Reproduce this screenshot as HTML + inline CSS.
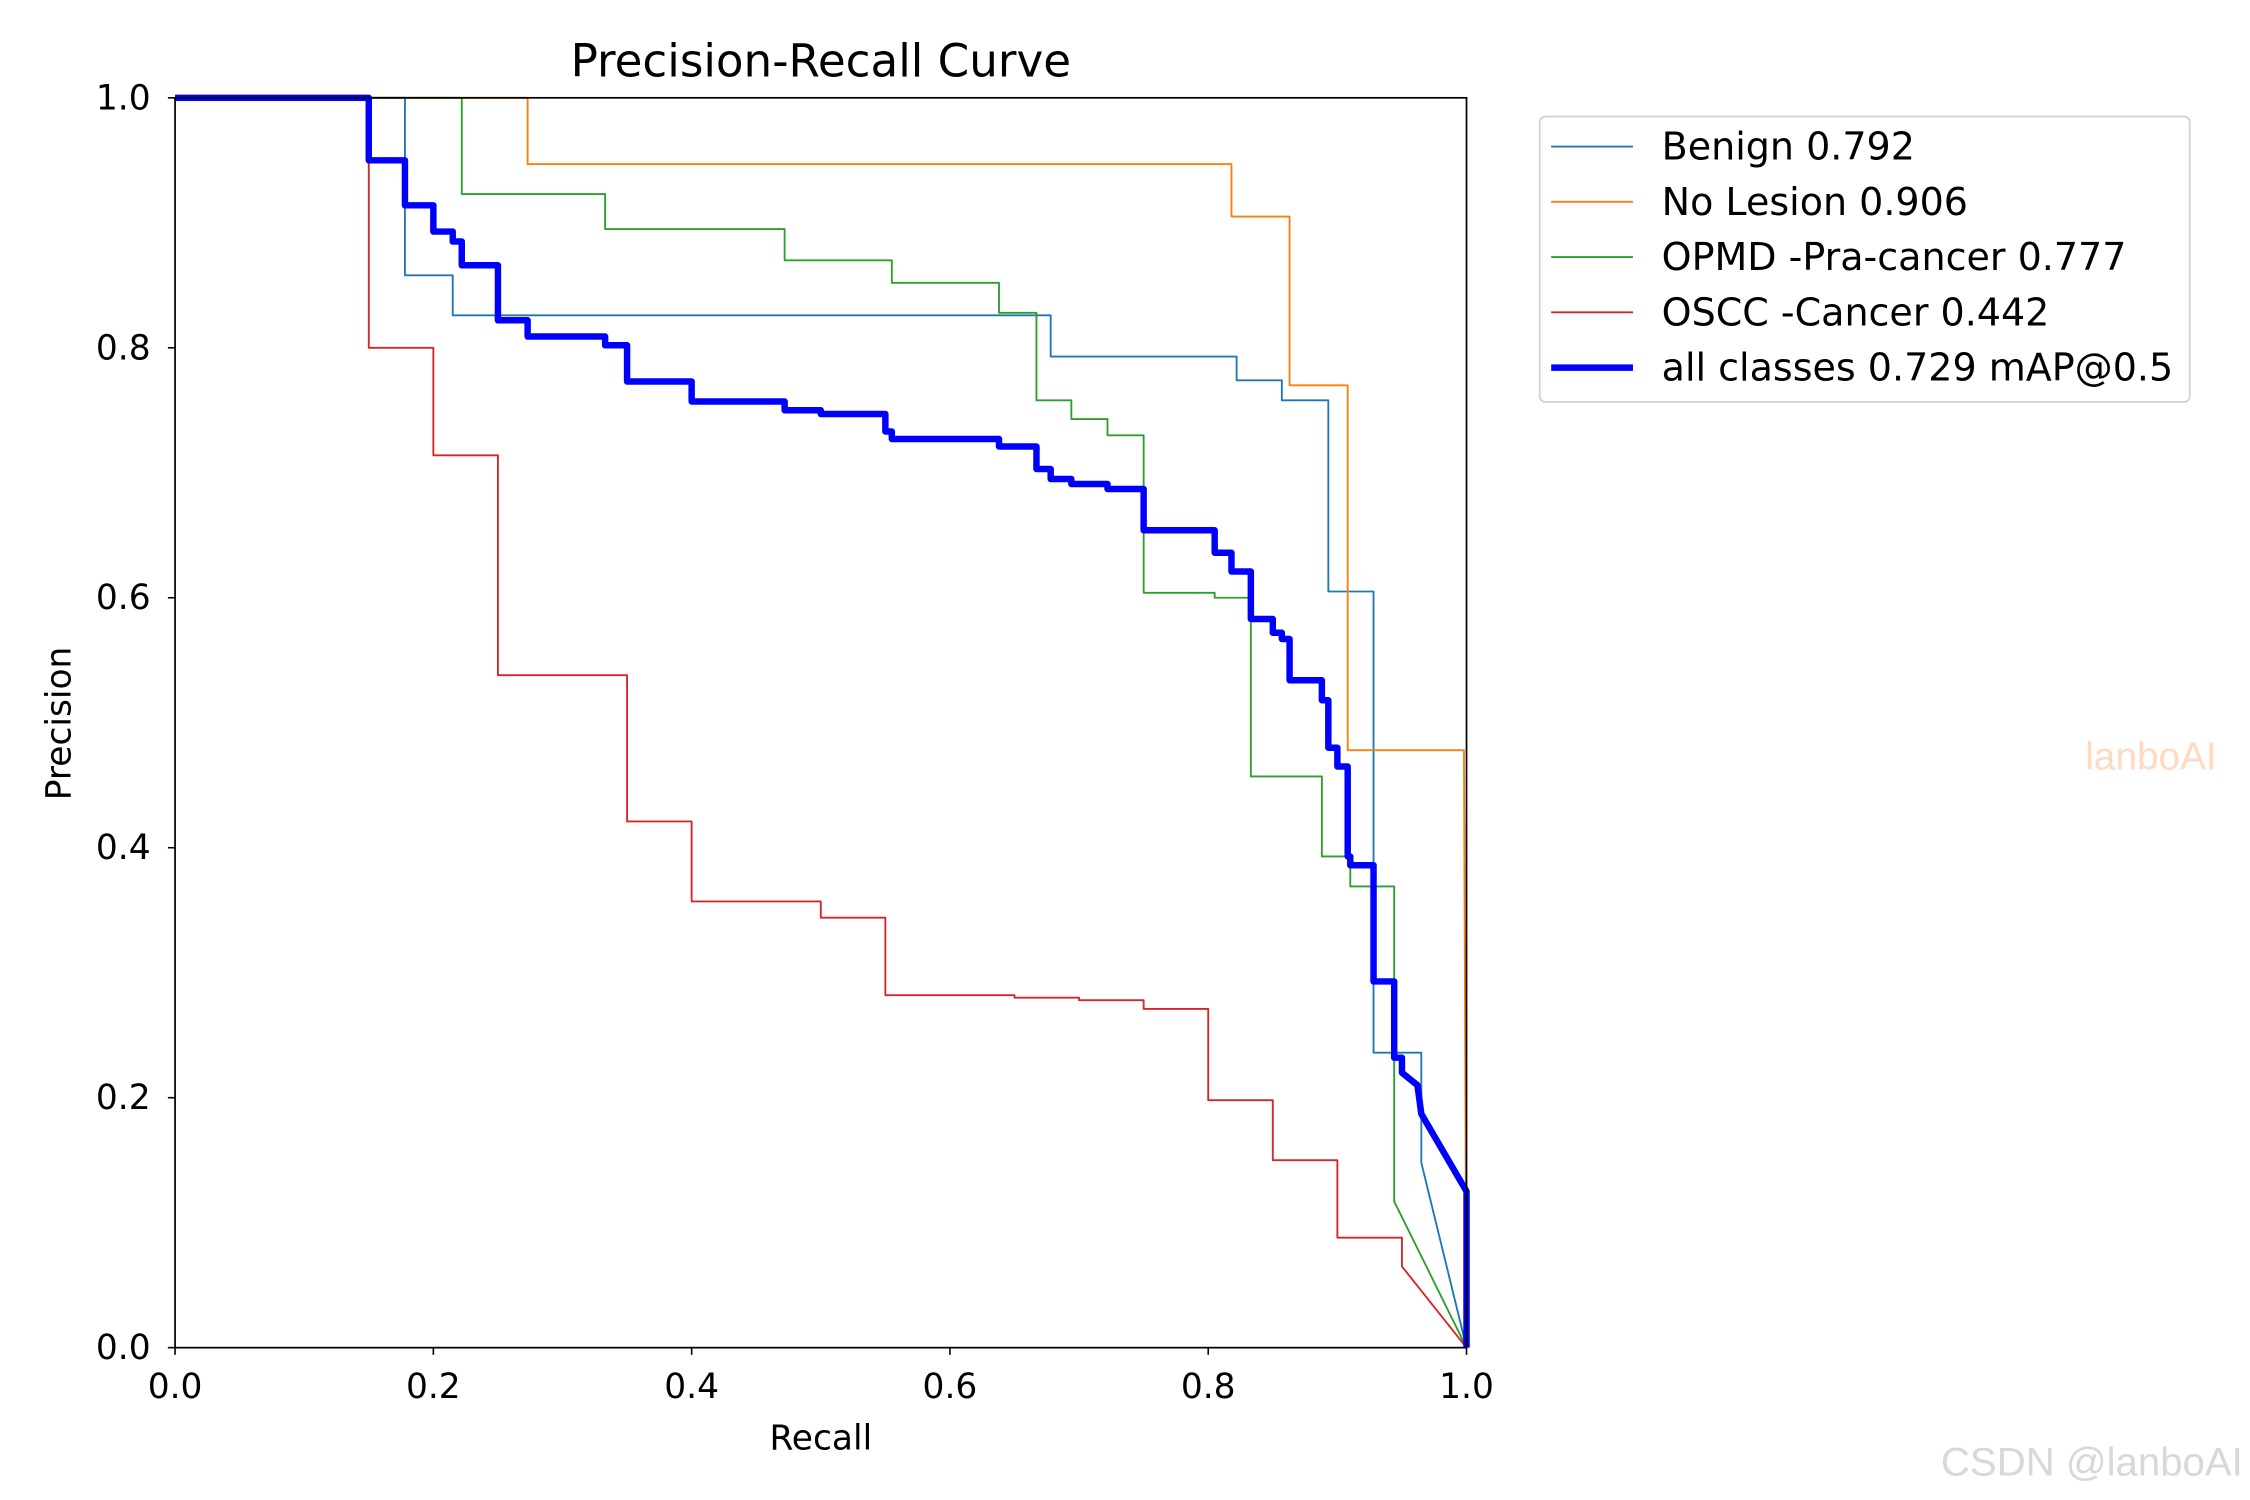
<!DOCTYPE html>
<html><head><meta charset="utf-8"><style>
html,body{margin:0;padding:0;background:#fff;}
svg{display:block;font-family:"DejaVu Sans","Liberation Sans",sans-serif;}
</style></head><body>
<svg id="chart" width="2250" height="1500" viewBox="0 0 1568 1045" xmlns="http://www.w3.org/2000/svg">
<rect width="1568" height="1045" fill="#fff"/>
<text x="572" y="53" font-size="31.5" text-anchor="middle">Precision-Recall Curve</text>
<g id="marks"></g>
<rect x="122" y="68" width="900" height="871" fill="none" stroke="#000" stroke-width="1.2"/>
<g id="ticks"></g>
<text x="572" y="1010" font-size="24" text-anchor="middle">Recall</text>
<text transform="translate(49,504) rotate(-90)" font-size="24" text-anchor="middle">Precision</text>
<g>
<rect x="1073" y="81" width="453" height="199" rx="4" fill="#fff" stroke="#d0d0d0" stroke-width="1.2"/>
<g id="legend-items"></g>
</g>
<text x="1499" y="536" font-size="27" fill="#ffd9c0" text-anchor="middle" font-family="Liberation Sans, sans-serif">lanboAI</text>
<text x="1563" y="1028" font-size="28" fill="#d8d8d8" text-anchor="end" font-family="Liberation Sans, sans-serif">CSDN @lanboAI</text>
</svg>
<script>
const seriesNames = ["Benign 0.792","No Lesion 0.906","OPMD -Pra-cancer 0.777","OSCC -Cancer 0.442","all classes 0.729 mAP@0.5"];
const seriesColors = ["#1f77b4","#ff7f0e","#2ca02c","#d62728","#0000ff"];
const seriesWidths = [1.3,1.3,1.3,1.3,4.5];
const benignR = [0,0.178,0.178,0.215,0.215,0.678,0.678,0.822,0.822,0.857,0.857,0.893,0.893,0.928,0.928,0.965,0.965,1.0];
const benignP = [1,1,0.858,0.858,0.826,0.826,0.793,0.793,0.774,0.774,0.758,0.758,0.605,0.605,0.236,0.236,0.148,0.0];
const nolesionR = [0,0.273,0.273,0.818,0.818,0.863,0.863,0.908,0.908,0.998,1.0];
const nolesionP = [1,1,0.947,0.947,0.905,0.905,0.770,0.770,0.478,0.478,0.0];
const opmdR = [0,0.222,0.222,0.333,0.333,0.472,0.472,0.555,0.555,0.638,0.638,0.667,0.667,0.694,0.694,0.722,0.722,0.75,0.75,0.805,0.805,0.833,0.833,0.888,0.888,0.91,0.91,0.944,0.944,1.0];
const opmdP = [1,1,0.923,0.923,0.895,0.895,0.870,0.870,0.852,0.852,0.828,0.828,0.758,0.758,0.743,0.743,0.730,0.730,0.604,0.604,0.600,0.600,0.457,0.457,0.393,0.393,0.369,0.369,0.117,0.0];
const osccR = [0,0.15,0.15,0.2,0.2,0.25,0.25,0.35,0.35,0.4,0.4,0.5,0.5,0.55,0.55,0.65,0.65,0.7,0.7,0.75,0.75,0.8,0.8,0.85,0.85,0.9,0.9,0.95,0.95,1.0];
const osccP = [1,1,0.8,0.8,0.714,0.714,0.538,0.538,0.421,0.421,0.357,0.357,0.344,0.344,0.282,0.282,0.280,0.280,0.278,0.278,0.271,0.271,0.198,0.198,0.150,0.150,0.088,0.088,0.065,0.0];
const allR = [0,0.15,0.15,0.178,0.178,0.2,0.2,0.215,0.215,0.222,0.222,0.25,0.25,0.273,0.273,0.333,0.333,0.35,0.35,0.4,0.4,0.472,0.472,0.5,0.5,0.55,0.55,0.555,0.555,0.638,0.638,0.667,0.667,0.678,0.678,0.694,0.694,0.722,0.722,0.75,0.75,0.805,0.805,0.818,0.818,0.833,0.833,0.85,0.85,0.857,0.857,0.863,0.863,0.888,0.888,0.893,0.893,0.9,0.9,0.908,0.908,0.91,0.91,0.928,0.928,0.944,0.944,0.95,0.95,0.962,0.965,1.0,1.0];
const allP = [1,1,0.95,0.95,0.914,0.914,0.893,0.893,0.885,0.885,0.866,0.866,0.822,0.822,0.809,0.809,0.802,0.802,0.773,0.773,0.757,0.757,0.750,0.750,0.747,0.747,0.733,0.733,0.727,0.727,0.721,0.721,0.703,0.703,0.695,0.695,0.691,0.691,0.687,0.687,0.654,0.654,0.636,0.636,0.621,0.621,0.583,0.583,0.572,0.572,0.567,0.567,0.534,0.534,0.518,0.518,0.480,0.480,0.465,0.465,0.393,0.393,0.386,0.386,0.293,0.293,0.232,0.232,0.220,0.210,0.187,0.125,0.0];
const xTicks = [0,0.2,0.4,0.6,0.8,1.0];
const yTicks = [0,0.2,0.4,0.6,0.8,1.0];
const tickLabels = ["0.0","0.2","0.4","0.6","0.8","1.0"];

const NS = "http://www.w3.org/2000/svg";
const xS = v => 122 + v * 900;
const yS = v => 939 - v * 871;
const allSeries = [[benignR,benignP],[nolesionR,nolesionP],[opmdR,opmdP],[osccR,osccP],[allR,allP]];
const seriesKeys = ["benign","no-lesion","opmd","oscc","all-classes"];
const marks = document.getElementById("marks");
allSeries.forEach((s, i) => {
  const d = s[0].map((r, j) => (j ? "L" : "M") + xS(r).toFixed(2) + "," + yS(s[1][j]).toFixed(2)).join("");
  const p = document.createElementNS(NS, "path");
  p.setAttribute("d", d);
  p.setAttribute("fill", "none");
  p.setAttribute("stroke", seriesColors[i]);
  p.setAttribute("stroke-width", seriesWidths[i]);
  p.setAttribute("stroke-linejoin", "round");
  
  
  marks.appendChild(p);
});
const ticks = document.getElementById("ticks");
xTicks.forEach((v, i) => {
  const l = document.createElementNS(NS, "line");
  l.setAttribute("x1", xS(v)); l.setAttribute("x2", xS(v));
  l.setAttribute("y1", 939); l.setAttribute("y2", 944);
  l.setAttribute("stroke", "#000"); l.setAttribute("stroke-width", 1.1);
  
  
  ticks.appendChild(l);
  const t = document.createElementNS(NS, "text");
  t.setAttribute("x", xS(v)); t.setAttribute("y", 974);
  t.setAttribute("font-size", "24"); t.setAttribute("text-anchor", "middle");
  t.textContent = tickLabels[i];
  
  
  ticks.appendChild(t);
});
yTicks.forEach((v, i) => {
  const l = document.createElementNS(NS, "line");
  l.setAttribute("x1", 117); l.setAttribute("x2", 122);
  l.setAttribute("y1", yS(v)); l.setAttribute("y2", yS(v));
  l.setAttribute("stroke", "#000"); l.setAttribute("stroke-width", 1.1);
  
  
  ticks.appendChild(l);
  const t = document.createElementNS(NS, "text");
  t.setAttribute("x", 105); t.setAttribute("y", yS(v) + 8);
  t.setAttribute("font-size", "24"); t.setAttribute("text-anchor", "end");
  t.textContent = tickLabels[i];
  
  
  ticks.appendChild(t);
});
const leg = document.getElementById("legend-items");
seriesNames.forEach((n, i) => {
  const y = 102 + i * 38.5;
  const l = document.createElementNS(NS, "line");
  l.setAttribute("x1", 1081); l.setAttribute("x2", 1138);
  l.setAttribute("y1", y); l.setAttribute("y2", y);
  l.setAttribute("stroke", seriesColors[i]); l.setAttribute("stroke-width", seriesWidths[i]);
  
  
  leg.appendChild(l);
  const t = document.createElementNS(NS, "text");
  t.setAttribute("x", 1158); t.setAttribute("y", y + 9);
  t.setAttribute("font-size", "26.5");
  t.textContent = n;
  
  
  leg.appendChild(t);
});
</script>
</body></html>
